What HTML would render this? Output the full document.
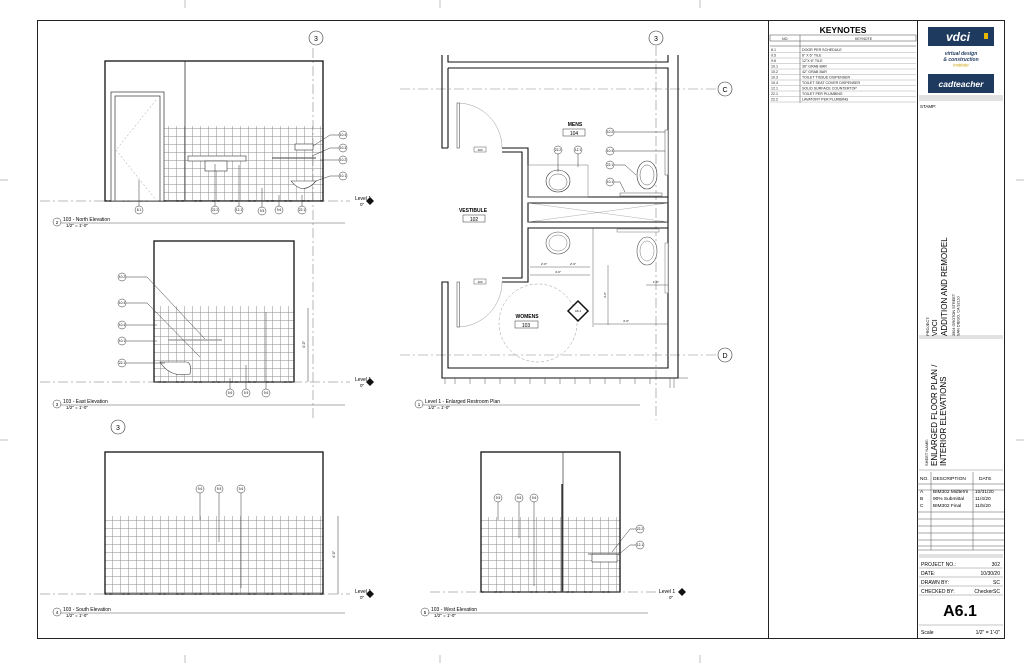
<!DOCTYPE html>
<html><head><meta charset="utf-8"><style>
html,body{margin:0;padding:0;background:#fff;}
svg{display:block;font-family:"Liberation Sans",sans-serif;}
</style></head><body>
<svg width="1024" height="663" viewBox="0 0 1024 663" xmlns="http://www.w3.org/2000/svg">
<defs>
<pattern id="tile" width="8" height="8" patternUnits="userSpaceOnUse">
<path d="M0 0.5H8M0.5 0V8" stroke="#8a8a8a" stroke-width="0.5" fill="none"/>
</pattern>
</defs>
<rect width="1024" height="663" fill="#fff"/>
<g stroke="#999" stroke-width="0.6">
<line x1="185" y1="0" x2="185" y2="8"/><line x1="440" y1="0" x2="440" y2="8"/><line x1="700" y1="0" x2="700" y2="8"/>
<line x1="185" y1="655" x2="185" y2="663"/><line x1="440" y1="655" x2="440" y2="663"/><line x1="700" y1="655" x2="700" y2="663"/>
<line x1="0" y1="180" x2="8" y2="180"/><line x1="0" y1="440" x2="8" y2="440"/>
<line x1="1016" y1="180" x2="1024" y2="180"/><line x1="1016" y1="440" x2="1024" y2="440"/>
</g>
<rect x="37.5" y="20.5" width="967" height="618" fill="none" stroke="#222" stroke-width="1"/>
<line x1="768.5" y1="20" x2="768.5" y2="638" stroke="#222"/>
<line x1="917.5" y1="20" x2="917.5" y2="638" stroke="#222"/>

<text x="843" y="33" font-size="8.5" font-weight="bold" text-anchor="middle">KEYNOTES</text>
<g stroke="#444" stroke-width="0.5" fill="none">
<rect x="770" y="35" width="146" height="6"/>
<line x1="800" y1="35" x2="800" y2="103"/>
<line x1="770" y1="46" x2="916" y2="46"/>
</g>
<g font-size="3.6" fill="#222">
<text x="782" y="40">NO.</text><text x="855" y="40">KEYNOTE</text>
<text x="771" y="51">8.1</text><text x="802" y="51">DOOR PER SCHEDULE</text>
<text x="771" y="56.5">9.5</text><text x="802" y="56.5">6" X 6" TILE</text>
<text x="771" y="62">9.6</text><text x="802" y="62">12"X 6" TILE</text>
<text x="771" y="67.5">10.1</text><text x="802" y="67.5">36" GRAB BAR</text>
<text x="771" y="73">10.2</text><text x="802" y="73">42" GRAB BAR</text>
<text x="771" y="78.5">10.3</text><text x="802" y="78.5">TOILET TISSUE DISPENSER</text>
<text x="771" y="84">10.4</text><text x="802" y="84">TOILET SEAT COVER DISPENSER</text>
<text x="771" y="89.5">12.1</text><text x="802" y="89.5">SOLID SURFACE COUNTERTOP</text>
<text x="771" y="95">22.1</text><text x="802" y="95">TOILET PER PLUMBING</text>
<text x="771" y="100.5">22.2</text><text x="802" y="100.5">LAVATORY PER PLUMBING</text>
</g>
<g stroke="#999" stroke-width="0.4">
<line x1="770" y1="52.5" x2="916" y2="52.5"/><line x1="770" y1="58" x2="916" y2="58"/><line x1="770" y1="63.5" x2="916" y2="63.5"/>
<line x1="770" y1="69" x2="916" y2="69"/><line x1="770" y1="74.5" x2="916" y2="74.5"/><line x1="770" y1="80" x2="916" y2="80"/>
<line x1="770" y1="85.5" x2="916" y2="85.5"/><line x1="770" y1="91" x2="916" y2="91"/><line x1="770" y1="96.5" x2="916" y2="96.5"/>
<line x1="770" y1="102" x2="916" y2="102"/>
</g>

<rect x="928" y="27" width="66" height="19" fill="#1f3a5f"/>
<text x="958" y="41" font-size="12" font-weight="bold" font-style="italic" fill="#fff" text-anchor="middle">vdci</text>
<rect x="984" y="33" width="4" height="6" fill="#e6b800"/>
<text x="961" y="55" font-size="5" font-style="italic" font-weight="bold" fill="#1f3a5f" text-anchor="middle">virtual design</text>
<text x="961" y="61" font-size="5" font-style="italic" font-weight="bold" fill="#1f3a5f" text-anchor="middle">&amp; construction</text>
<text x="961" y="66.5" font-size="4.5" font-style="italic" fill="#c9a000" text-anchor="middle">institute</text>
<rect x="928" y="74" width="66" height="19" fill="#1f3a5f"/>
<text x="961" y="87" font-size="8.5" font-weight="bold" font-style="italic" fill="#fff" text-anchor="middle">cadteacher</text>
<g stroke="#888" stroke-width="0.5"><line x1="919" y1="96" x2="1003" y2="96"/><line x1="919" y1="98" x2="1003" y2="98"/><line x1="919" y1="100" x2="1003" y2="100"/></g>
<text x="920" y="108" font-size="4.5">STAMP:</text>

<g stroke="#888" stroke-width="0.5"><line x1="919" y1="336" x2="1003" y2="336"/><line x1="919" y1="338" x2="1003" y2="338"/>
<line x1="919" y1="470" x2="1003" y2="470"/></g>
<text transform="translate(929,336) rotate(-90)" font-size="4">PROJECT:</text>
<text transform="translate(937,336) rotate(-90)" font-size="7">VDCI</text>
<text transform="translate(947,336) rotate(-90)" font-size="8">ADDITION AND REMODEL</text>
<text transform="translate(955,336) rotate(-90)" font-size="3.8">3904 GROTON STREET</text>
<text transform="translate(959.5,336) rotate(-90)" font-size="3.8">SAN DIEGO, CA 92110</text>
<text transform="translate(928,466) rotate(-90)" font-size="4">SHEET NAME:</text>
<text transform="translate(937,466) rotate(-90)" font-size="8">ENLARGED FLOOR PLAN /</text>
<text transform="translate(946,466) rotate(-90)" font-size="8">INTERIOR ELEVATIONS</text>

<g stroke="#555" stroke-width="0.5" fill="none">
<line x1="917" y1="484" x2="1004" y2="484"/>
<line x1="931" y1="472" x2="931" y2="550"/><line x1="973" y1="472" x2="973" y2="550"/>
<line x1="917" y1="490" x2="1004" y2="490"/>
<line x1="917" y1="512" x2="1004" y2="512"/><line x1="917" y1="519" x2="1004" y2="519"/><line x1="917" y1="526" x2="1004" y2="526"/>
<line x1="917" y1="533" x2="1004" y2="533"/><line x1="917" y1="540" x2="1004" y2="540"/><line x1="917" y1="546" x2="1004" y2="546"/>
<line x1="917" y1="550" x2="1004" y2="550"/>
</g>
<g font-size="4.8">
<text x="920" y="480">NO.</text><text x="933" y="480">DESCRIPTION</text><text x="979" y="480">DATE</text>
<text x="920" y="493">A</text><text x="933" y="493">BIM302 Midterm</text><text x="975" y="493">10/31/20</text>
<text x="920" y="500">B</text><text x="933" y="500">90% Submittal</text><text x="975" y="500">11/4/20</text>
<text x="920" y="507">C</text><text x="933" y="507">BIM302 Final</text><text x="975" y="507">11/5/20</text>
</g>
<g stroke="#888" stroke-width="0.5"><line x1="919" y1="555" x2="1003" y2="555"/><line x1="919" y1="557" x2="1003" y2="557"/>
<line x1="919" y1="568" x2="1003" y2="568"/><line x1="919" y1="577" x2="1003" y2="577"/><line x1="919" y1="586" x2="1003" y2="586"/><line x1="919" y1="595" x2="1003" y2="595"/>
<line x1="919" y1="625" x2="1003" y2="625"/></g>
<g font-size="5">
<text x="921" y="566">PROJECT NO.:</text><text x="1000" y="566" text-anchor="end">302</text>
<text x="921" y="575">DATE:</text><text x="1000" y="575" text-anchor="end">10/30/20</text>
<text x="921" y="584">DRAWN BY:</text><text x="1000" y="584" text-anchor="end">SC</text>
<text x="921" y="593">CHECKED BY:</text><text x="1000" y="593" text-anchor="end">CheckerSC</text>
<text x="921" y="634">Scale</text><text x="1000" y="634" text-anchor="end">1/2" = 1'-0"</text>
</g>
<text x="960" y="616" font-size="16" font-weight="bold" text-anchor="middle">A6.1</text>

<!-- NORTH -->
<line x1="313" y1="48" x2="313" y2="420" stroke="#888" stroke-width="0.6" stroke-dasharray="10,3,2,3"/>
<circle cx="316" cy="38" r="7" fill="#fff" stroke="#333" stroke-width="0.6"/><text x="316" y="41" font-size="7" text-anchor="middle">3</text>
<rect x="164" y="126" width="159" height="75" fill="url(#tile)"/>
<rect x="105" y="61" width="218" height="140" fill="none" stroke="#111" stroke-width="1.3"/>
<line x1="185" y1="61" x2="185" y2="201" stroke="#333" stroke-width="0.8"/>
<rect x="111" y="92" width="53" height="109" fill="#fff" stroke="#333" stroke-width="0.7"/>
<rect x="115" y="96" width="45" height="105" fill="none" stroke="#333" stroke-width="0.7"/>
<path d="M156 100 L116 150 L156 200" fill="none" stroke="#999" stroke-width="0.5" stroke-dasharray="2,2"/>
<rect x="188" y="156" width="58" height="5" fill="#fff" stroke="#333" stroke-width="0.6"/>
<rect x="205" y="161" width="22" height="10" fill="#fff" stroke="#333" stroke-width="0.6"/>
<line x1="272" y1="158" x2="316" y2="158" stroke="#666" stroke-width="1.2"/>
<rect x="295" y="144" width="18" height="6" fill="#fff" stroke="#333" stroke-width="0.6"/>
<path d="M291 181 Q303 196 316 181 Z" fill="#fff" stroke="#333" stroke-width="0.6"/>
<line x1="40" y1="201" x2="350" y2="201" stroke="#777" stroke-width="0.6" stroke-dasharray="10,3,2,3"/>
<text x="355" y="200" font-size="5">Level 1</text><text x="360" y="206" font-size="4.5">0"</text>
<path d="M370 197 L374 201 L370 205 L366 201 Z" fill="#111"/>
<g fill="#fff" stroke="#333" stroke-width="0.5">
<circle cx="139" cy="210" r="4"/><circle cx="215" cy="210" r="4"/><circle cx="239" cy="210" r="4"/><circle cx="262" cy="211" r="4"/><circle cx="279" cy="210" r="4"/><circle cx="302" cy="210" r="4"/>
<circle cx="343" cy="135" r="4"/><circle cx="343" cy="148" r="4"/><circle cx="343" cy="160" r="4"/><circle cx="343" cy="176" r="4"/>
</g>
<g stroke="#333" stroke-width="0.5"><line x1="139" y1="206" x2="139" y2="180"/><line x1="215" y1="206" x2="215" y2="164"/><line x1="239" y1="206" x2="239" y2="165"/><line x1="262" y1="207" x2="262" y2="188"/><line x1="279" y1="206" x2="279" y2="195"/><line x1="302" y1="206" x2="302" y2="195"/>
<path d="M339 135 L330 135 L313 146 M339 148 L330 148 L312 156 M339 160 L320 160 M339 176 L330 176 L316 181" fill="none"/></g>
<g font-size="3.2" text-anchor="middle"><text x="139" y="211">8.1</text><text x="215" y="211">22.2</text><text x="239" y="211">12.1</text><text x="262" y="212">9.5</text><text x="279" y="211">9.6</text><text x="302" y="211">22.1</text>
<text x="343" y="136">10.4</text><text x="343" y="149">10.3</text><text x="343" y="161">10.2</text><text x="343" y="177">10.1</text></g>
<circle cx="57" cy="222" r="4" fill="#fff" stroke="#333" stroke-width="0.5"/><text x="57" y="224" font-size="4.5" text-anchor="middle">2</text>
<text x="63" y="221" font-size="5">103 - North Elevation</text><text x="66" y="227" font-size="4.5">1/2" = 1'-0"</text>
<line x1="61" y1="223" x2="345" y2="223" stroke="#555" stroke-width="0.5"/>

<!-- EAST -->
<rect x="154" y="306" width="140" height="76" fill="url(#tile)"/>
<rect x="154" y="241" width="140" height="141" fill="none" stroke="#111" stroke-width="1.3"/>
<line x1="168" y1="340" x2="222" y2="340" stroke="#999" stroke-width="1.2"/>
<path d="M160 362 Q170 378 190 374 Q192 362 186 362 Z" fill="#fff" stroke="#333" stroke-width="0.6"/>
<line x1="40" y1="382" x2="350" y2="382" stroke="#777" stroke-width="0.6" stroke-dasharray="10,3,2,3"/>
<line x1="308" y1="308" x2="308" y2="382" stroke="#333" stroke-width="0.5"/>
<text transform="translate(305,348) rotate(-90)" font-size="3.5">4'-0"</text>
<text x="355" y="381" font-size="5">Level 1</text><text x="360" y="387" font-size="4.5">0"</text>
<path d="M370 378 L374 382 L370 386 L366 382 Z" fill="#111"/>
<g fill="#fff" stroke="#333" stroke-width="0.5">
<circle cx="122" cy="277" r="4"/><circle cx="122" cy="303" r="4"/><circle cx="122" cy="325" r="4"/><circle cx="122" cy="341" r="4"/><circle cx="122" cy="363" r="4"/>
<circle cx="230" cy="393" r="4"/><circle cx="246" cy="393" r="4"/><circle cx="266" cy="393" r="4"/>
</g>
<g stroke="#333" stroke-width="0.5" fill="none"><path d="M126 277 L147 277 L205 339 M126 303 L147 303 L200 357 M126 325 L157 325 M126 341 L157 341 M126 363 L165 363"/>
<line x1="230" y1="389" x2="230" y2="378"/><line x1="246" y1="389" x2="246" y2="365"/><line x1="266" y1="389" x2="266" y2="312"/></g>
<g font-size="3.2" text-anchor="middle"><text x="122" y="278">10.2</text><text x="122" y="304">10.3</text><text x="122" y="326">10.4</text><text x="122" y="342">10.1</text><text x="122" y="364">22.1</text>
<text x="230" y="394">9.6</text><text x="246" y="394">9.5</text><text x="266" y="394">9.6</text></g>
<circle cx="57" cy="404" r="4" fill="#fff" stroke="#333" stroke-width="0.5"/><text x="57" y="406" font-size="4.5" text-anchor="middle">3</text>
<text x="63" y="403" font-size="5">103 - East Elevation</text><text x="66" y="409" font-size="4.5">1/2" = 1'-0"</text>
<line x1="61" y1="405" x2="345" y2="405" stroke="#555" stroke-width="0.5"/>
<circle cx="118" cy="427" r="7" fill="#fff" stroke="#333" stroke-width="0.6"/><text x="118" y="430" font-size="7" text-anchor="middle">3</text>

<!-- SOUTH -->
<rect x="105" y="516" width="218" height="78" fill="url(#tile)"/>
<rect x="105" y="452" width="218" height="142" fill="none" stroke="#111" stroke-width="1.3"/>
<line x1="40" y1="594" x2="350" y2="594" stroke="#777" stroke-width="0.6" stroke-dasharray="10,3,2,3"/>
<line x1="338" y1="516" x2="338" y2="594" stroke="#333" stroke-width="0.5"/>
<text transform="translate(335,558) rotate(-90)" font-size="3.5">4'-0"</text>
<text x="355" y="593" font-size="5">Level 1</text><text x="360" y="599" font-size="4.5">0"</text>
<path d="M370 590 L374 594 L370 598 L366 594 Z" fill="#111"/>
<g fill="#fff" stroke="#333" stroke-width="0.5"><circle cx="200" cy="489" r="4"/><circle cx="219" cy="489" r="4"/><circle cx="241" cy="489" r="4"/></g>
<g stroke="#333" stroke-width="0.5"><line x1="200" y1="493" x2="200" y2="520"/><line x1="219" y1="493" x2="219" y2="542"/><line x1="241" y1="493" x2="241" y2="588"/></g>
<g font-size="3.2" text-anchor="middle"><text x="200" y="490">9.6</text><text x="219" y="490">9.5</text><text x="241" y="490">9.6</text></g>
<circle cx="57" cy="612" r="4" fill="#fff" stroke="#333" stroke-width="0.5"/><text x="57" y="614" font-size="4.5" text-anchor="middle">4</text>
<text x="63" y="611" font-size="5">103 - South Elevation</text><text x="66" y="617" font-size="4.5">1/2" = 1'-0"</text>
<line x1="61" y1="613" x2="345" y2="613" stroke="#555" stroke-width="0.5"/>

<!-- WEST -->
<rect x="481" y="517" width="139" height="75" fill="url(#tile)"/>
<rect x="481" y="452" width="139" height="140" fill="none" stroke="#111" stroke-width="1.3"/>
<line x1="563" y1="452" x2="563" y2="592" stroke="#333" stroke-width="0.7"/>
<line x1="562" y1="484" x2="562" y2="592" stroke="#111" stroke-width="1.2"/>
<rect x="592" y="554" width="25" height="8" fill="#fff" stroke="#333" stroke-width="0.6"/>
<line x1="588" y1="554" x2="620" y2="554" stroke="#333" stroke-width="0.8"/>
<line x1="430" y1="592" x2="660" y2="592" stroke="#777" stroke-width="0.6" stroke-dasharray="10,3,2,3"/>
<text x="659" y="593" font-size="5">Level 1</text><text x="669" y="599" font-size="4.5">0"</text>
<path d="M682 588 L686 592 L682 596 L678 592 Z" fill="#111"/>
<g fill="#fff" stroke="#333" stroke-width="0.5"><circle cx="498" cy="498" r="4"/><circle cx="519" cy="498" r="4"/><circle cx="534" cy="498" r="4"/><circle cx="640" cy="529" r="4"/><circle cx="640" cy="545" r="4"/></g>
<g stroke="#333" stroke-width="0.5" fill="none"><line x1="498" y1="502" x2="498" y2="520"/><line x1="519" y1="502" x2="519" y2="538"/><line x1="534" y1="502" x2="534" y2="586"/>
<path d="M636 529 L630 529 L612 552 M636 545 L630 545 L618 555"/></g>
<g font-size="3.2" text-anchor="middle"><text x="498" y="499">9.5</text><text x="519" y="499">9.6</text><text x="534" y="499">9.6</text><text x="640" y="530">22.2</text><text x="640" y="546">12.1</text></g>
<circle cx="425" cy="612" r="4" fill="#fff" stroke="#333" stroke-width="0.5"/><text x="425" y="614" font-size="4.5" text-anchor="middle">5</text>
<text x="431" y="611" font-size="5">103 - West Elevation</text><text x="434" y="617" font-size="4.5">1/2" = 1'-0"</text>
<line x1="429" y1="613" x2="648" y2="613" stroke="#555" stroke-width="0.5"/>

<!-- FLOOR PLAN -->
<line x1="656" y1="46" x2="656" y2="420" stroke="#888" stroke-width="0.6" stroke-dasharray="10,3,2,3"/>
<circle cx="656" cy="38" r="7" fill="#fff" stroke="#333" stroke-width="0.6"/><text x="656" y="41" font-size="7" text-anchor="middle">3</text>
<line x1="400" y1="89" x2="717" y2="89" stroke="#888" stroke-width="0.6" stroke-dasharray="10,3,2,3"/>
<circle cx="725" cy="89" r="7" fill="#fff" stroke="#333" stroke-width="0.6"/><text x="725" y="92" font-size="7" text-anchor="middle">C</text>
<line x1="400" y1="355" x2="717" y2="355" stroke="#888" stroke-width="0.6" stroke-dasharray="10,3,2,3"/>
<circle cx="725" cy="355" r="7" fill="#fff" stroke="#333" stroke-width="0.6"/><text x="725" y="358" font-size="7" text-anchor="middle">D</text>
<g fill="none" stroke="#111" stroke-width="1.1">
<path d="M442 55 L442 148 L448 148"/>
<path d="M448 68 L668 68 L668 368 L448 368 L448 282 L442 282 L442 378 L678 378 L678 55"/>
<path d="M448 55 L448 62 L668 62 L668 55"/>
<path d="M448 148 L448 68"/>
<path d="M502 148 L528 148 L528 197 L668 197 M502 152 L522 152 L522 278 L502 278 M502 282 L528 282 L528 228 L668 228"/>
<path d="M528 203 L668 203 L668 222 L528 222 Z"/>
</g>
<line x1="528" y1="203" x2="668" y2="222" stroke="#999" stroke-width="0.4"/><line x1="528" y1="222" x2="668" y2="203" stroke="#999" stroke-width="0.4"/>
<rect x="457" y="103" width="2.5" height="45" fill="none" stroke="#333" stroke-width="0.5"/>
<path d="M459 103 A45 45 0 0 1 502 148" fill="none" stroke="#999" stroke-width="0.5"/>
<rect x="457" y="282" width="2.5" height="45" fill="none" stroke="#333" stroke-width="0.5"/>
<path d="M459 327 A45 45 0 0 0 502 282" fill="none" stroke="#999" stroke-width="0.5"/>
<rect x="474" y="147" width="12" height="5" fill="#fff" stroke="#333" stroke-width="0.4"/><text x="480" y="151" font-size="3" text-anchor="middle">104</text>
<rect x="474" y="279" width="12" height="5" fill="#fff" stroke="#333" stroke-width="0.4"/><text x="480" y="283" font-size="3" text-anchor="middle">103</text>
<rect x="528" y="165" width="60" height="32" fill="none" stroke="#777" stroke-width="0.5"/>
<ellipse cx="558" cy="181" rx="12" ry="11" fill="#fff" stroke="#333" stroke-width="0.6"/><ellipse cx="558" cy="182" rx="9" ry="8" fill="none" stroke="#555" stroke-width="0.5"/>
<ellipse cx="647" cy="175" rx="10" ry="14" fill="#fff" stroke="#333" stroke-width="0.6"/><ellipse cx="647" cy="175" rx="7" ry="10" fill="none" stroke="#555" stroke-width="0.5"/>
<rect x="620" y="193" width="42" height="3" fill="#fff" stroke="#555" stroke-width="0.5"/>
<rect x="665" y="130" width="3" height="45" fill="#fff" stroke="#555" stroke-width="0.5"/>
<text x="575" y="126" font-size="5" font-weight="bold" text-anchor="middle">MENS</text>
<rect x="563" y="129" width="22" height="7" fill="#fff" stroke="#333" stroke-width="0.5"/><text x="574" y="135" font-size="5" text-anchor="middle">104</text>
<ellipse cx="558" cy="243" rx="12" ry="11" fill="#fff" stroke="#555" stroke-width="0.6"/><ellipse cx="558" cy="243" rx="9" ry="8" fill="none" stroke="#777" stroke-width="0.5"/>
<ellipse cx="647" cy="251" rx="10" ry="14" fill="#fff" stroke="#555" stroke-width="0.6"/><ellipse cx="647" cy="251" rx="7" ry="10" fill="none" stroke="#777" stroke-width="0.5"/>
<rect x="617" y="229" width="42" height="3" fill="#fff" stroke="#777" stroke-width="0.5"/>
<rect x="665" y="243" width="3" height="50" fill="#fff" stroke="#777" stroke-width="0.5"/>
<circle cx="538" cy="323" r="39" fill="none" stroke="#999" stroke-width="0.5" stroke-dasharray="3,2"/>
<g stroke="#333" stroke-width="0.4" fill="none">
<line x1="530" y1="267" x2="590" y2="267"/><line x1="530" y1="275" x2="590" y2="275"/>
<line x1="594" y1="324" x2="668" y2="324"/><line x1="608" y1="265" x2="608" y2="325"/>
<line x1="646" y1="285" x2="668" y2="285"/><line x1="593" y1="228" x2="593" y2="327"/>
</g>
<g font-size="3" text-anchor="middle"><text x="544" y="265">2'-6"</text><text x="573" y="265">2'-6"</text><text x="558" y="273">4'-0"</text><text x="626" y="322">4'-0"</text><text x="656" y="283">1'-6"</text></g>
<text transform="translate(606,298) rotate(-90)" font-size="3">4'-0"</text>
<path d="M578 301 L588 311 L578 321 L568 311 Z" fill="#fff" stroke="#111" stroke-width="1.5"/><text x="578" y="312" font-size="3" text-anchor="middle">A6.1</text>
<text x="527" y="318" font-size="5" font-weight="bold" text-anchor="middle">WOMENS</text>
<rect x="515" y="321" width="23" height="7" fill="#fff" stroke="#333" stroke-width="0.5"/><text x="526" y="327" font-size="5" text-anchor="middle">103</text>
<text x="473" y="212" font-size="5" font-weight="bold" text-anchor="middle">VESTIBULE</text>
<rect x="463" y="215" width="22" height="7" fill="#fff" stroke="#333" stroke-width="0.5"/><text x="474" y="221" font-size="5" text-anchor="middle">102</text>
<g fill="#fff" stroke="#333" stroke-width="0.5">
<circle cx="558" cy="150" r="4"/><circle cx="578" cy="150" r="4"/>
<circle cx="610" cy="132" r="4"/><circle cx="610" cy="151" r="4"/><circle cx="610" cy="165" r="4"/><circle cx="610" cy="182" r="4"/>
</g>
<g stroke="#333" stroke-width="0.5" fill="none"><path d="M558 154 L558 172 M578 154 L578 167 M614 132 L665 132 M614 151 L665 151 M614 165 L625 165 L636 175 M614 182 L620 182 L625 192"/></g>
<g font-size="3.2" text-anchor="middle"><text x="558" y="151">22.2</text><text x="578" y="151">12.1</text><text x="610" y="133">10.2</text><text x="610" y="152">10.3</text><text x="610" y="166">22.1</text><text x="610" y="183">10.1</text></g>
<g stroke="#555" stroke-width="0.5"><line x1="445" y1="378" x2="445" y2="384"/><line x1="455" y1="378" x2="455" y2="384"/><line x1="470" y1="378" x2="470" y2="384"/><line x1="485" y1="378" x2="485" y2="384"/><line x1="500" y1="378" x2="500" y2="384"/><line x1="515" y1="378" x2="515" y2="384"/><line x1="530" y1="378" x2="530" y2="384"/><line x1="545" y1="378" x2="545" y2="384"/><line x1="560" y1="378" x2="560" y2="384"/><line x1="575" y1="378" x2="575" y2="384"/><line x1="590" y1="378" x2="590" y2="384"/><line x1="605" y1="378" x2="605" y2="384"/><line x1="620" y1="378" x2="620" y2="384"/><line x1="635" y1="378" x2="635" y2="384"/><line x1="650" y1="378" x2="650" y2="384"/><line x1="670" y1="378" x2="670" y2="388"/><line x1="674" y1="378" x2="674" y2="388"/><line x1="678" y1="378" x2="688" y2="378"/></g>
<circle cx="419" cy="404" r="4" fill="#fff" stroke="#333" stroke-width="0.5"/><text x="419" y="406" font-size="4.5" text-anchor="middle">1</text>
<text x="425" y="403" font-size="5">Level 1 - Enlarged Restroom Plan</text><text x="428" y="409" font-size="4.5">1/2" = 1'-0"</text>
<line x1="423" y1="405" x2="640" y2="405" stroke="#555" stroke-width="0.5"/>
</svg>
</body></html>
